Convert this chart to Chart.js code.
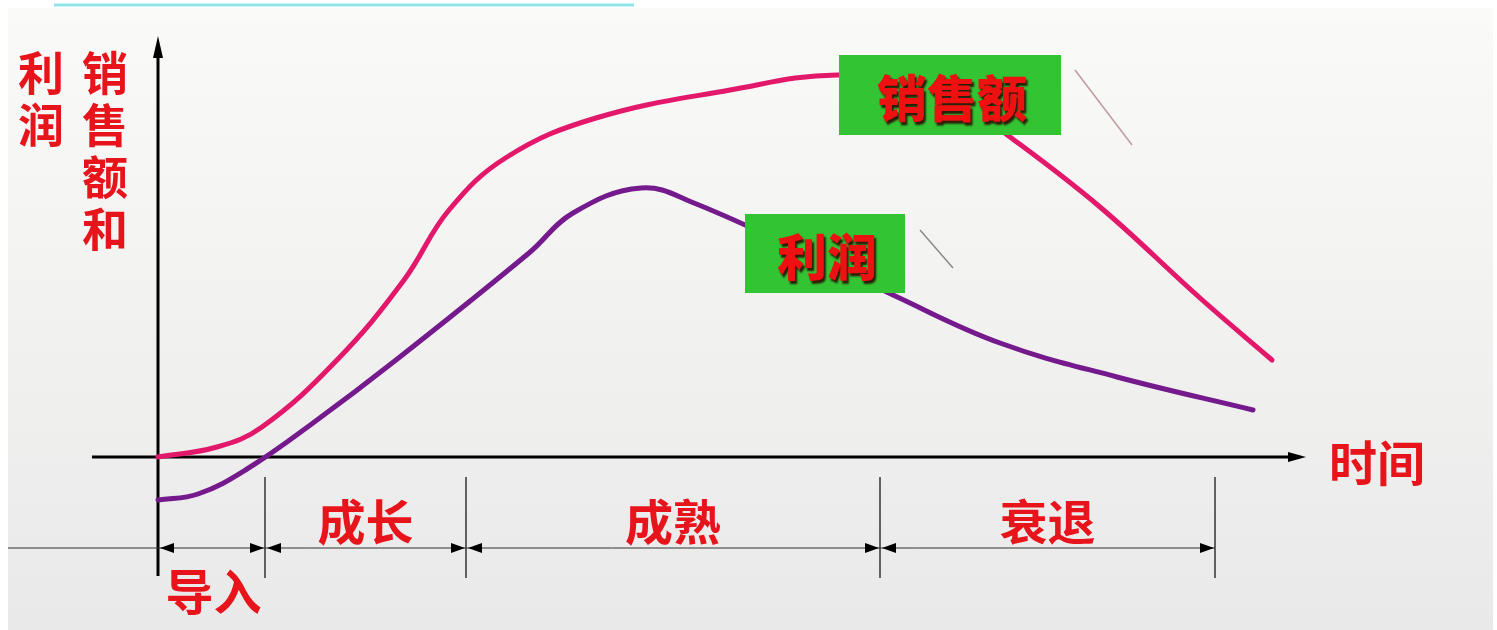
<!DOCTYPE html>
<html>
<head>
<meta charset="utf-8">
<script src="https://cdn.jsdelivr.net/npm/chart.js@4.4.1/dist/chart.umd.min.js"></script>
<style>
  html, body { margin: 0; padding: 0; background: #fff; }
  #wrap { width: 1497px; height: 630px; position: relative; }
</style>
</head>
<body>
<div id="wrap"><canvas id="lifeCycleChart"></canvas></div>
<script>
// 产品生命周期：时间轴（单位任意），原点在 0
const salesTime = [0, 0.59, 1.04, 1.79, 2.46, 2.91, 3.49, 4.38, 5.72, 6.79, 7.8, 8.52, 9.42, 10.42, 11.14];
const salesValue = [0, 0.10, 0.30, 0.97, 1.77, 2.47, 3.00, 3.39, 3.67, 3.82, 3.70, 3.20, 2.50, 1.59, 0.97];

const profitTime = [0, 0.4, 0.89, 1.55, 2.38, 3.71, 4.15, 4.83, 5.36, 6.62, 7.35, 8.42, 9.59, 10.95];
const profitValue = [-0.43, -0.37, -0.12, 0.34, 0.97, 2.04, 2.44, 2.69, 2.54, 1.97, 1.62, 1.14, 0.80, 0.47];

// 阶段分界（时间）和名称
const phaseBounds = [0, 1.07, 3.08, 7.22, 10.57];
const phaseNames = ['导入', '成长', '成熟', '衰退'];

const seriesNames = ['销售额', '利润'];
const yAxisTitle = ['利润', '销售额和'];
const xAxisTitle = '时间';

const CJK = '"Noto Sans CJK SC", "Noto Sans", sans-serif';

function toPoints(xs, ys) {
    return xs.map((x, i) => ({ x: x, y: ys[i] }));
}

function arrowHead(ctx, x, y, dir, len, half) {
    // dir: 'left' | 'right' | 'up'
    ctx.beginPath();
    if (dir === 'left') {
        ctx.moveTo(x, y); ctx.lineTo(x + len, y - half); ctx.lineTo(x + len, y + half);
    } else if (dir === 'right') {
        ctx.moveTo(x, y); ctx.lineTo(x - len, y - half); ctx.lineTo(x - len, y + half);
    } else {
        ctx.moveTo(x, y); ctx.lineTo(x - half, y + len); ctx.lineTo(x + half, y + len);
    }
    ctx.closePath();
    ctx.fill();
}

// 背景、坐标轴
const backdropPlugin = {
    id: 'backdrop',
    beforeDraw(chart) {
        const ctx = chart.ctx;
        const w = chart.width, h = chart.height;
        ctx.save();
        ctx.fillStyle = '#ffffff';
        ctx.fillRect(0, 0, w, h);
        const g = ctx.createLinearGradient(0, 8, 0, h);
        g.addColorStop(0, '#fafaf8');
        g.addColorStop(1, '#e9e9e9');
        ctx.fillStyle = g;
        ctx.fillRect(8, 8, w - 12, h - 8);
        // 顶部残留的标题下划线
        ctx.strokeStyle = '#8fe3ea';
        ctx.lineWidth = 3;
        ctx.beginPath();
        ctx.moveTo(54, 5); ctx.lineTo(634, 5);
        ctx.stroke();
        ctx.restore();
    },
    beforeDatasetsDraw(chart) {
        const ctx = chart.ctx;
        const xs = chart.scales.x, ys = chart.scales.y;
        const ox = xs.getPixelForValue(0), oy = ys.getPixelForValue(0);
        ctx.save();
        ctx.strokeStyle = '#000';
        ctx.fillStyle = '#000';
        ctx.lineWidth = 3;
        // 纵轴
        ctx.beginPath();
        ctx.moveTo(ox, 576); ctx.lineTo(ox, 55);
        ctx.stroke();
        arrowHead(ctx, ox, 36, 'up', 22, 5);
        // 横轴
        ctx.beginPath();
        ctx.moveTo(92, oy); ctx.lineTo(1290, oy);
        ctx.stroke();
        arrowHead(ctx, 1306, oy, 'right', 18, 5);

        // 阶段分界线和双向箭头
        const arrowY = 548;
        ctx.lineWidth = 1;
        ctx.strokeStyle = '#333';
        ctx.beginPath();
        ctx.moveTo(8, arrowY);
        ctx.lineTo(xs.getPixelForValue(phaseBounds[phaseBounds.length - 1]), arrowY);
        ctx.stroke();
        ctx.lineWidth = 1.5;
        phaseBounds.forEach((b, i) => {
            const px = xs.getPixelForValue(b);
            if (i > 0) {
                ctx.beginPath();
                ctx.moveTo(px, 477); ctx.lineTo(px, 578);
                ctx.stroke();
            }
        });
        for (let i = 0; i < phaseBounds.length - 1; i++) {
            const a = xs.getPixelForValue(phaseBounds[i]);
            const b = xs.getPixelForValue(phaseBounds[i + 1]);
            arrowHead(ctx, a + 2, arrowY, 'left', 14, 5);
            arrowHead(ctx, b - 1, arrowY, 'right', 14, 5);
        }

        // 阶段名称
        ctx.fillStyle = '#e8141c';
        ctx.font = 'bold 48px ' + CJK;
        ctx.textAlign = 'center';
        ctx.textBaseline = 'middle';
        phaseNames.forEach((name, i) => {
            const a = xs.getPixelForValue(phaseBounds[i]);
            const b = xs.getPixelForValue(phaseBounds[i + 1]);
            const cy = i === 0 ? 592 : 522;
            ctx.fillText(name, (a + b) / 2 + (i === 0 ? 2 : 0), cy);
        });

        // 轴标题
        ctx.fillText(xAxisTitle, 1377, 463);
        ctx.font = 'bold 46px ' + CJK;
        const colX = [41, 105];
        yAxisTitle.forEach((txt, c) => {
            [...txt].forEach((ch, k) => {
                ctx.fillText(ch, colX[c], 73 + k * 52);
            });
        });
        ctx.restore();
    },
    afterDatasetsDraw(chart) {
        const ctx = chart.ctx;
        ctx.save();
        // 指示线
        ctx.lineWidth = 1.5;
        ctx.strokeStyle = '#c09a9e';
        ctx.beginPath(); ctx.moveTo(1075, 70); ctx.lineTo(1132, 145); ctx.stroke();
        ctx.strokeStyle = '#8a8a8a';
        ctx.beginPath(); ctx.moveTo(920, 230); ctx.lineTo(953, 268); ctx.stroke();

        // 绿色标签框
        const boxes = [
            { text: seriesNames[0], x: 839, y: 55, w: 222, h: 80 },
            { text: seriesNames[1], x: 745, y: 214, w: 160, h: 79 }
        ];
        boxes.forEach(b => {
            ctx.fillStyle = '#33c433';
            ctx.fillRect(b.x, b.y, b.w, b.h);
            ctx.font = '900 50px ' + CJK;
            ctx.textAlign = 'center';
            ctx.textBaseline = 'middle';
            ctx.shadowColor = 'rgba(40,0,0,0.85)';
            ctx.shadowOffsetX = 2;
            ctx.shadowOffsetY = 3;
            ctx.shadowBlur = 2;
            ctx.fillStyle = '#ee1111';
            ctx.fillText(b.text, b.x + b.w / 2 + 2, b.y + b.h / 2 + 3);
            ctx.shadowColor = 'transparent';
        });
        ctx.restore();
    }
};

const ctx = document.getElementById('lifeCycleChart').getContext('2d');
const chart = new Chart(ctx, {
    type: 'line',
    data: {
        datasets: [
            {
                label: seriesNames[0],
                data: toPoints(salesTime, salesValue),
                borderColor: '#e3186b',
                borderWidth: 5,
                borderCapStyle: 'round',
                tension: 0.4,
                pointRadius: 0,
                fill: false,
                clip: false
            },
            {
                label: seriesNames[1],
                data: toPoints(profitTime, profitValue),
                borderColor: '#751a8c',
                borderWidth: 5,
                borderCapStyle: 'round',
                tension: 0.4,
                pointRadius: 0,
                fill: false,
                clip: false
            }
        ]
    },
    options: {
        responsive: true,
        maintainAspectRatio: false,
        animation: false,
        layout: { padding: 0 },
        scales: {
            x: { type: 'linear', display: false, min: -1.58, max: 13.39 },
            y: { type: 'linear', display: false, min: -1.73, max: 4.57 }
        },
        plugins: {
            legend: { display: false },
            tooltip: { enabled: false }
        }
    },
    plugins: [backdropPlugin]
});
</script>
</body>
</html>
